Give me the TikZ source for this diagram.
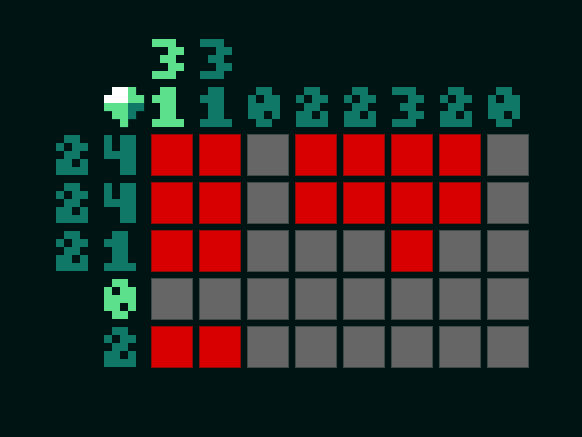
\documentclass[tikz,border=0pt]{standalone}
\definecolor{bgc}{HTML}{001414}
\definecolor{teal}{HTML}{0F7866}
\definecolor{mint}{HTML}{5CE08C}
\definecolor{cellgray}{HTML}{666666}
\definecolor{cellgrayedge}{HTML}{3E4A48}
\definecolor{cellred}{HTML}{D80000}
\definecolor{celledge}{HTML}{8A0A0A}
% The clues use a bitmap face that no installed font reproduces, so each digit is
% painted from 8px squares; a transparent node on it carries the same digit as text.
\newcommand{\pxrow}[3]{% #1 row, #2 col-start, #3 col-end (exclusive)
  \fill (#2*8,#1*8) rectangle (#3*8,#1*8+8);}
\newcommand{\glyphthree}{\pxrow{0}{0}{3}\pxrow{1}{2}{4}\pxrow{2}{1}{3}\pxrow{3}{2}{4}\pxrow{4}{0}{3}}
\newcommand{\glyphone}{\pxrow{0}{1}{3}\pxrow{1}{0}{3}\pxrow{2}{1}{3}\pxrow{3}{1}{3}\pxrow{4}{0}{4}}
\newcommand{\glyphzero}{\pxrow{0}{1}{3}\pxrow{1}{0}{1}\pxrow{1}{2}{4}\pxrow{2}{0}{4}\pxrow{3}{0}{2}\pxrow{3}{3}{4}\pxrow{4}{1}{3}}
\newcommand{\glyphtwo}{\pxrow{0}{1}{3}\pxrow{1}{0}{1}\pxrow{1}{2}{4}\pxrow{2}{1}{3}\pxrow{3}{0}{2}\pxrow{3}{3}{4}\pxrow{4}{0}{4}}
\newcommand{\glyphfour}{\pxrow{0}{0}{1}\pxrow{0}{2}{4}\pxrow{1}{0}{1}\pxrow{1}{2}{4}\pxrow{2}{0}{4}\pxrow{3}{2}{4}\pxrow{4}{2}{4}}
\newcommand{\dig}[5]{% x, y, colour, glyph, digit as text
  \begin{scope}[shift={(#1,#2)},#3]
    \csname glyph#4\endcsname
    \node[cluetext] (clue-#1-#2) at (16,20) {#5};
  \end{scope}}
\tikzset{
  redcell/.style={fill=cellred,draw=celledge,line width=1pt},
  graycell/.style={fill=cellgray,draw=cellgrayedge,line width=1pt},
  cluetext/.style={text opacity=0,inner sep=0pt,font=\fontsize{50pt}{50pt}\selectfont},
}
\begin{document}
\begin{tikzpicture}[x=1pt,y=-1pt]
\useasboundingbox (0,0) rectangle (582,437);
\fill[bgc] (0,0) rectangle (582,437);
% upper column clues
\dig{152}{39}{mint}{three}{3}
\dig{200}{39}{teal}{three}{3}
% lower column clues
\dig{152}{87}{mint}{one}{1}
\dig{200}{87}{teal}{one}{1}
\dig{248}{87}{teal}{zero}{0}
\dig{296}{87}{teal}{two}{2}
\dig{344}{87}{teal}{two}{2}
\dig{392}{87}{teal}{three}{3}
\dig{440}{87}{teal}{two}{2}
\dig{488}{87}{teal}{zero}{0}
% row clues
\dig{56}{135}{teal}{two}{2}
\dig{104}{135}{teal}{four}{4}
\dig{56}{183}{teal}{two}{2}
\dig{104}{183}{teal}{four}{4}
\dig{56}{231}{teal}{two}{2}
\dig{104}{231}{teal}{one}{1}
\dig{104}{279}{mint}{zero}{0}
\dig{104}{327}{teal}{two}{2}
% cursor
\begin{scope}[shift={(104,87)}]
  \fill[white] (8,0) rectangle (24,8) (0,8) rectangle (24,16);
  \fill[mint] (24,0) rectangle (32,8) (24,8) rectangle (40,16)
    (0,16) rectangle (24,24) (8,24) rectangle (24,32) (16,32) rectangle (24,40);
  \fill[teal] (24,16) rectangle (40,24) (24,24) rectangle (32,32);
\end{scope}
% grid
\foreach \r/\row in {0/{1,1,0,1,1,1,1,0},1/{1,1,0,1,1,1,1,0},2/{1,1,0,0,0,1,0,0},3/{0,0,0,0,0,0,0,0},4/{1,1,0,0,0,0,0,0}}{
  \foreach \v [count=\c from 0] in \row {
    \ifnum\v=1\def\st{redcell}\else\def\st{graycell}\fi
    \node[\st,minimum width=41pt,minimum height=41pt,inner sep=0pt,outer sep=0pt,anchor=north west]
      (cell-\r-\c) at (151.5+48*\c,134.5+48*\r) {};
  }
}
\end{tikzpicture}
\end{document}
